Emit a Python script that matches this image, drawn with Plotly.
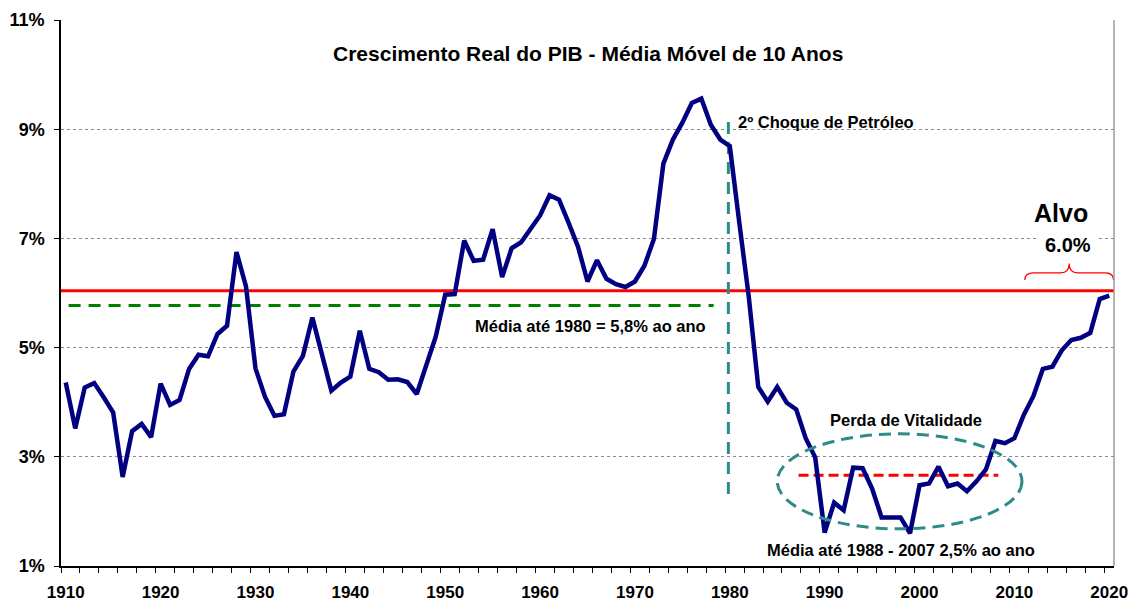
import plotly.graph_objects as go

# ---------------- data ----------------
years = list(range(1910, 2021))
growth = [
    4.36, 3.52, 4.27, 4.35, 4.09, 3.81, 2.63, 3.47, 3.60, 3.36,   # 1910-1919
    4.34, 3.95, 4.04, 4.61, 4.87, 4.84, 5.25, 5.40, 6.75, 6.12,   # 1920-1929
    4.62, 4.10, 3.75, 3.78, 4.56, 4.85, 5.55, 4.90, 4.21, 4.36,   # 1930-1939
    4.47, 5.31, 4.61, 4.55, 4.41, 4.42, 4.37, 4.15, 4.68, 5.20,   # 1940-1949
    5.97, 5.98, 6.96, 6.59, 6.61, 7.17, 6.29, 6.82, 6.93, 7.16,   # 1950-1959
    7.42, 7.79, 7.71, 7.29, 6.85, 6.21, 6.60, 6.26, 6.16, 6.11,   # 1960-1969
    6.21, 6.50, 6.99, 8.37, 8.81, 9.12, 9.48, 9.56, 9.08, 8.81,   # 1970-1979
    8.69, 7.29, 5.93, 4.28, 4.01, 4.28, 3.99, 3.87, 3.34, 2.99,   # 1980-1989
    1.61, 2.16, 2.02, 2.80, 2.79, 2.42, 1.89, 1.89, 1.89, 1.60,   # 1990-1999
    2.48, 2.51, 2.82, 2.46, 2.51, 2.37, 2.55, 2.77, 3.29, 3.25,   # 2000-2009
    3.34, 3.77, 4.11, 4.61, 4.65, 4.95, 5.14, 5.18, 5.27, 5.89,   # 2010-2019
    5.95,                                                          # 2020
]

target = 6.04                    # "Alvo 6.0%"
avg_until_1980 = 5.77            # "Média até 1980 = 5,8%"
avg_until_1980_span = [1910.3, 1978.3]
avg_1988_2007 = 2.66             # "Média até 1988 - 2007 2,5%"
avg_1988_2007_span = [1987.25, 2008.3]
shock_year = 1979.85             # 2º Choque de Petróleo
shock_span = [2.32, 9.21]
ellipse_x = [1985.0, 2010.8]
ellipse_y = [1.68, 3.42]
brace_x = [2011.1, 2020.45]

x_range = [1909.5, 2020.5]
y_ticks = [1, 3, 5, 7, 9, 11]
y_ticktext = [f"{v}%" for v in y_ticks]
x_ticks = list(range(1910, 2021, 10))

NAVY = "#000080"
RED = "#FF0000"
GREEN = "#008000"
TEAL = "#2E8B87"
FONT = "Liberation Sans, Arial, sans-serif"

fig = go.Figure()

# target line
fig.add_trace(go.Scatter(x=x_range, y=[target, target], mode="lines",
                         line=dict(color=RED, width=3), hoverinfo="skip"))
# average until 1980
fig.add_trace(go.Scatter(x=avg_until_1980_span, y=[avg_until_1980] * 2, mode="lines",
                         line=dict(color=GREEN, width=3, dash="12px,8px"), hoverinfo="skip"))
# average 1988-2007
fig.add_trace(go.Scatter(x=avg_1988_2007_span, y=[avg_1988_2007] * 2, mode="lines",
                         line=dict(color=RED, width=3, dash="10px,5px"), hoverinfo="skip"))
# oil shock
fig.add_trace(go.Scatter(x=[shock_year, shock_year], y=shock_span, mode="lines",
                         line=dict(color=TEAL, width=3, dash="12px,8px"), hoverinfo="skip"))
# main series
fig.add_trace(go.Scatter(x=years, y=growth, mode="lines",
                         line=dict(color=NAVY, width=4.5)))

# ellipse
fig.add_shape(type="circle", xref="x", yref="y",
              x0=ellipse_x[0], x1=ellipse_x[1], y0=ellipse_y[0], y1=ellipse_y[1],
              line=dict(color=TEAL, width=3, dash="12px,7px"))

# brace above target
bx0, bx1 = brace_x
bxm = (bx0 + bx1) / 2
y_end, y_flat, y_tip = target + 0.20, target + 0.33, target + 0.50
dx = 0.9
path = (f"M {bx0},{y_end} Q {bx0},{y_flat} {bx0 + dx},{y_flat} "
        f"L {bxm - dx},{y_flat} Q {bxm},{y_flat} {bxm},{y_tip} "
        f"Q {bxm},{y_flat} {bxm + dx},{y_flat} "
        f"L {bx1 - dx},{y_flat} Q {bx1},{y_flat} {bx1},{y_end}")
fig.add_shape(type="path", xref="x", yref="y", path=path,
              line=dict(color=RED, width=1.2))

# right border
fig.add_shape(type="line", xref="paper", yref="paper", x0=1, x1=1, y0=0, y1=1,
              line=dict(color="#9a9a9a", width=1.5))

def note(text, x, y, size=16.5, **kw):
    fig.add_annotation(x=x, y=y, xref="x", yref="y", text=text, showarrow=False,
                       font=dict(family=FONT, size=size, color="black", weight="bold"),
                       xanchor="center", yanchor="middle", **kw)

note("Crescimento Real do PIB - Média Móvel de 10 Anos", 1965.0, 10.38, size=21)
note("Média até 1980 = 5,8% ao ano", 1965.27, 5.39)
note("2º Choque de Petróleo", 1990.15, 9.13)
note("Perda de Vitalidade", 1998.53, 3.68)
note("Média até 1988 - 2007 2,5% ao ano", 1998.05, 1.30)
note("Alvo", 2014.96, 7.47, size=25)
note("6.0%", 2015.62, 6.88, size=20, bgcolor="white", borderpad=6)

fig.update_layout(
    width=1131, height=601,
    margin=dict(l=61, r=17, t=20, b=35),
    paper_bgcolor="white", plot_bgcolor="white",
    showlegend=False,
    font=dict(family=FONT, size=16, color="black"),
    xaxis=dict(range=x_range, tickmode="array", tickvals=x_ticks, ticks="",
               automargin=False,
               showgrid=False, zeroline=False, showline=True, linecolor="black", linewidth=1.5,
               tickfont=dict(family=FONT, size=17, color="black", weight="bold"),
               ticklabelstandoff=10,
               minor=dict(ticks="outside", tickmode="linear", tick0=1909.5, dtick=2,
                          ticklen=5, tickcolor="black", tickwidth=1, showgrid=False)),
    yaxis=dict(range=[1, 11], tickmode="array", tickvals=y_ticks, ticktext=y_ticktext,
               automargin=False,
               ticks="outside", ticklen=5, tickcolor="black",
               showgrid=True, gridcolor="#8a8a8a", gridwidth=1, griddash="dot",
               zeroline=False, showline=True, linecolor="black", linewidth=1.5,
               ticklabelstandoff=6,
               tickfont=dict(family=FONT, size=18, color="black", weight="bold")),
)

fig.write_html("out.html",
               config={"displayModeBar": False},
               post_script="document.body.style.margin='0';document.body.style.overflow='hidden';")
